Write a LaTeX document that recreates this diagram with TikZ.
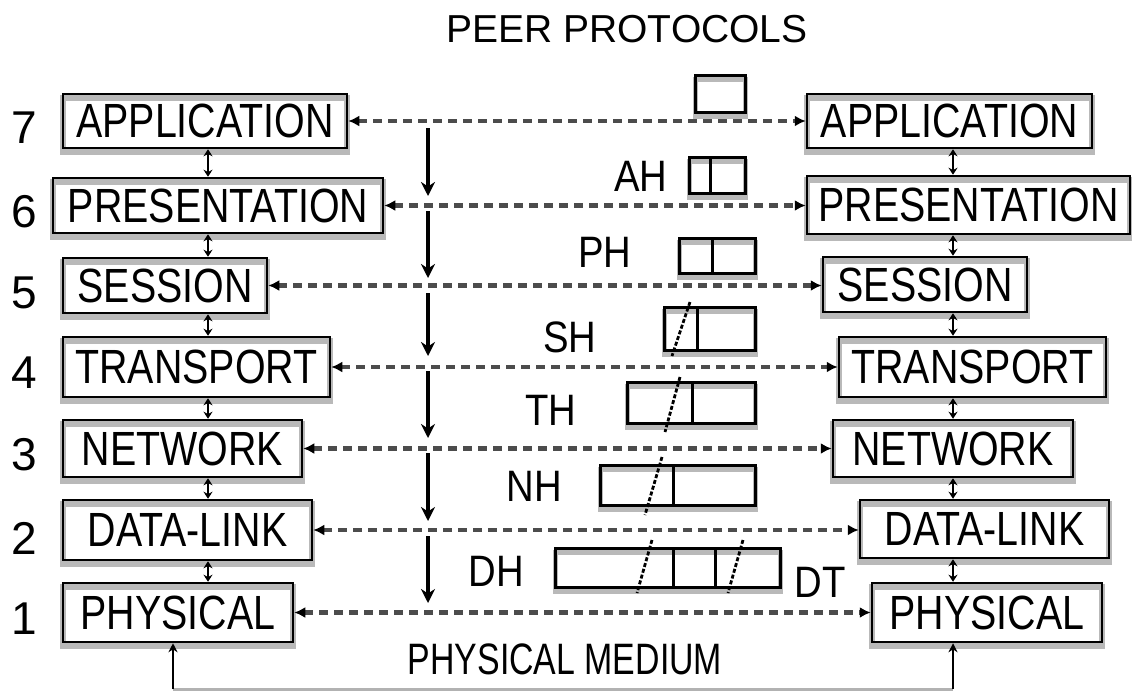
\documentclass[tikz,border=0pt]{standalone}
\usepackage{fontspec}
\setmainfont{Liberation Sans}
\usetikzlibrary{arrows.meta}
\newcommand{\sqz}[2][0.82]{\scalebox{#1}[1]{#2}}
\newcommand{\pdubox}[4]{%
  \fill[white] (#1,#2) rectangle (#3,#4);
  \draw[gray!55, line width=5pt] (#1,#2+4) rectangle (#3,#4+4);
  \draw[pdu] (#1,#2) rectangle (#3,#4);}
\begin{document}
\begin{tikzpicture}[x=1pt,y=-1pt,
  layerbox/.style={draw=black, line width=2.5pt, inner sep=0pt,
    font=\fontsize{48}{50}\selectfont,
    preaction={fill=white},
    preaction={draw=gray!55, line width=6pt, transform canvas={yshift=-4pt}}},
  numlbl/.style={font=\fontsize{46}{48}\selectfont},
  hdr/.style={font=\fontsize{44}{46}\selectfont},
  peer/.style={draw=gray!60!black, line width=4.5pt, dash pattern=on 9pt off 6pt,
    arrows={Latex[length=11pt,width=11pt,color=black]-Latex[length=11pt,width=11pt,color=black]}},
  downarr/.style={line width=3.5pt, arrows={-Stealth[length=14pt,width=14pt]}},
  stackc/.style={line width=2pt, arrows={Stealth[length=7pt,width=9pt]-Stealth[length=7pt,width=9pt]}},
  pdu/.style={draw=black, line width=3pt},
  slash/.style={line width=2.8pt, dash pattern=on 4pt off 2pt},
  medline/.style={draw=gray!60, line width=3pt},
  medarr/.style={line width=2pt, arrows={-Stealth[length=9pt,width=9pt]}}
]
\useasboundingbox (0,0) rectangle (1132,694);

% title
\node[font=\fontsize{39}{40}\selectfont] (title) at (627,29) {PEER PROTOCOLS};

% left stack
\node[layerbox, minimum width=284pt, minimum height=54pt] (L7) at (205,121) {\sqz{APPLICATION}};
\node[layerbox, minimum width=330pt, minimum height=55pt] (L6) at (218,205.5) {\sqz{PRESENTATION}};
\node[layerbox, minimum width=204pt, minimum height=55pt] (L5) at (165,285.5) {\sqz{SESSION}};
\node[layerbox, minimum width=267pt, minimum height=60pt] (L4) at (196.5,367) {\sqz{TRANSPORT}};
\node[layerbox, minimum width=239pt, minimum height=57pt] (L3) at (182.5,448.5) {\sqz{NETWORK}};
\node[layerbox, minimum width=249pt, minimum height=60pt] (L2) at (187.5,530) {\sqz{DATA-LINK}};
\node[layerbox, minimum width=230pt, minimum height=59pt] (L1) at (178,612.5) {\sqz{PHYSICAL}};

% right stack
\node[layerbox, minimum width=285pt, minimum height=54pt] (R7) at (949.5,121) {\sqz{APPLICATION}};
\node[layerbox, minimum width=323pt, minimum height=58pt] (R6) at (968.5,205) {\sqz{PRESENTATION}};
\node[layerbox, minimum width=204pt, minimum height=55pt] (R5) at (925,284.5) {\sqz{SESSION}};
\node[layerbox, minimum width=267pt, minimum height=60pt] (R4) at (972.5,367) {\sqz{TRANSPORT}};
\node[layerbox, minimum width=240pt, minimum height=57pt] (R3) at (953,448.5) {\sqz{NETWORK}};
\node[layerbox, minimum width=249pt, minimum height=58pt] (R2) at (984.5,529) {\sqz{DATA-LINK}};
\node[layerbox, minimum width=230pt, minimum height=59pt] (R1) at (987,612.5) {\sqz{PHYSICAL}};

% layer numbers
\node[numlbl] (n7) at (24,128) {7};
\node[numlbl] (n6) at (24,212) {6};
\node[numlbl] (n5) at (24,293) {5};
\node[numlbl] (n4) at (24,373) {4};
\node[numlbl] (n3) at (24,455) {3};
\node[numlbl] (n2) at (24,538) {2};
\node[numlbl] (n1) at (24,619) {1};

% stack connectors
\coordinate (cl) at (208,0);
\coordinate (cr) at (953,0);
\foreach \a/\b in {7/6,6/5,5/4,4/3,3/2,2/1}{
  \draw[stackc] (L\a.south -| cl) -- (L\b.north -| cl);
  \draw[stackc] (R\a.south -| cr) -- (R\b.north -| cr);
}

% peer protocol lines
\foreach \k in {7,6,5,4,3,2,1}{
  \draw[peer] (L\k.east) -- (L\k.east -| R\k.west);
}

% downward flow arrows
\foreach \ya/\yb [count=\i] in {122/205,205/287,287/365,365/447,447/530,530/612}{
  \coordinate (ds\i) at (428,\ya+6);
  \coordinate (de\i) at (428,\yb-9);
  \draw[downarr] (ds\i) -- (de\i);
}

% data units
\pdubox{695}{75}{745}{112}
\pdubox{689}{157}{745}{193}
\draw[pdu] (710,157) -- (710,193);
\pdubox{679}{238}{755}{273}
\draw[pdu] (712,238) -- (712,273);
\pdubox{664}{307}{755}{350}
\draw[pdu] (697,307) -- (697,350);
\draw[slash] (690,302) -- (672,356);
\pdubox{627}{382}{755}{423}
\draw[pdu] (692,382) -- (692,423);
\draw[slash] (680,377) -- (665,432);
\pdubox{600}{465}{755}{505}
\draw[pdu] (673,465) -- (673,505);
\draw[slash] (662,457) -- (645,515);
\pdubox{555}{548}{780}{587}
\draw[pdu] (673,548) -- (673,587);
\draw[pdu] (715,548) -- (715,587);
\draw[slash] (652,540) -- (637,593);
\draw[slash] (743,540) -- (728,593);

% header labels
\node[hdr] (ah) at (641,176) {\sqz[0.87]{AH}};
\node[hdr] (ph) at (605,252) {\sqz[0.87]{PH}};
\node[hdr] (sh) at (570,337) {\sqz[0.87]{SH}};
\node[hdr] (th) at (551,410) {\sqz[0.87]{TH}};
\node[hdr] (nh) at (534,486) {\sqz[0.87]{NH}};
\node[hdr] (dh) at (496,571) {\sqz[0.87]{DH}};
\node[hdr] (dt) at (820,582) {\sqz[0.87]{DT}};

% physical medium
\node[font=\fontsize{44}{46}\selectfont] (medium) at (565,659) {\sqz[0.77]{PHYSICAL MEDIUM}};
\coordinate (mL) at (173,689);
\coordinate (mR) at (953,689);
\draw[medline] (mL) -- (mR);
\draw[medarr] (mL) -- (L1.south -| mL);
\draw[medarr] (mR) -- (R1.south -| mR);
\end{tikzpicture}
\end{document}
